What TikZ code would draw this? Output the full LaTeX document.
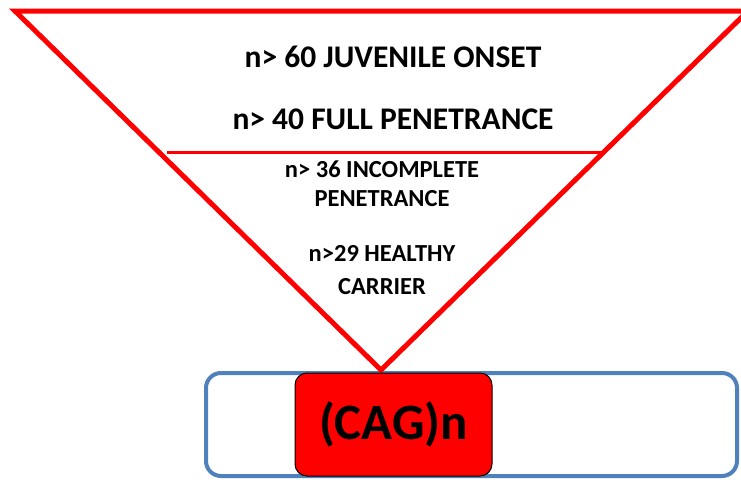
\documentclass[tikz,border=0pt]{standalone}
\usepackage{fontspec}
\setmainfont{Carlito}
\definecolor{boxblue}{RGB}{79,129,189}
\begin{document}
\begin{tikzpicture}[x=1pt,y=-1pt,
  tri/.style={draw=red,line width=5pt,line join=miter},
  sep/.style={draw=red,line width=3pt},
  big/.style={font=\bfseries\fontsize{31.5}{33}\selectfont,inner sep=0pt},
  small/.style={font=\bfseries\fontsize{24.5}{26}\selectfont,inner sep=0pt},
  gene/.style={draw=boxblue,line width=4pt,rounded corners=15pt},
  cag/.style={draw=black,line width=1pt,fill=red,rounded corners=12pt,minimum width=197pt,minimum height=103pt,inner sep=0pt,font=\bfseries\fontsize{51}{53}\selectfont}]
\useasboundingbox (0,0) rectangle (741,479);
\draw[gene] (206,373) rectangle (737,476);
\coordinate (tl) at (15,11);
\coordinate (tr) at (748,11);
\coordinate (ap) at (381,370);
\draw[tri] (tl) -- (tr) -- (ap) -- cycle;
\coordinate (sl) at (167,152);
\coordinate (sr) at (602,152);
\draw[sep] (sl) -- (sr);
\node[cag] (box) at (393.5,424.5) {(CAG)n};
\node[big] (l1) at (393,57) {n> 60 JUVENILE ONSET};
\node[big] (l2) at (393,119) {n> 40 FULL PENETRANCE};
\node[small] (l3) at (382,169) {n> 36 INCOMPLETE};
\node[small] (l4) at (382,199) {PENETRANCE};
\node[small] (l5) at (382,253) {n>29 HEALTHY};
\node[small] (l6) at (382,287) {CARRIER};
\end{tikzpicture}
\end{document}
